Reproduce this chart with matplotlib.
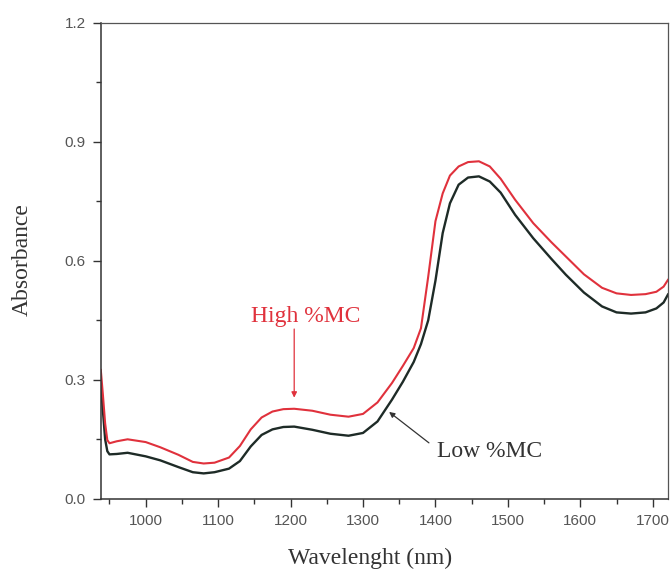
import matplotlib
matplotlib.use("Agg")
import matplotlib.pyplot as plt
from matplotlib.ticker import MultipleLocator

wavelength = [938, 941, 944, 947, 950, 960, 975, 1000, 1020, 1045, 1065, 1080, 1095,
              1115, 1130, 1145, 1160, 1175, 1190, 1205, 1230, 1255, 1280, 1300, 1320,
              1340, 1355, 1370, 1380, 1390, 1400, 1410, 1420, 1432, 1445, 1460, 1475,
              1490, 1510, 1535, 1560, 1580, 1605, 1630, 1650, 1670, 1690, 1705, 1715, 1721]

low_mc = [0.29, 0.22, 0.15, 0.12, 0.112, 0.113, 0.116, 0.107, 0.097, 0.080, 0.067, 0.064,
          0.067, 0.076, 0.095, 0.132, 0.161, 0.175, 0.181, 0.182, 0.174, 0.164, 0.159,
          0.166, 0.195, 0.250, 0.295, 0.345, 0.39, 0.45, 0.55, 0.67, 0.745, 0.792, 0.810,
          0.813, 0.800, 0.772, 0.716, 0.657, 0.605, 0.565, 0.520, 0.485, 0.470, 0.467,
          0.470, 0.480, 0.495, 0.515]

high_mc = [0.325, 0.26, 0.19, 0.148, 0.140, 0.145, 0.150, 0.143, 0.130, 0.111, 0.093,
           0.089, 0.091, 0.104, 0.133, 0.175, 0.205, 0.220, 0.226, 0.227, 0.222, 0.212,
           0.207, 0.214, 0.243, 0.292, 0.335, 0.38, 0.43, 0.56, 0.70, 0.77, 0.815, 0.838,
           0.849, 0.851, 0.838, 0.807, 0.754, 0.695, 0.647, 0.611, 0.566, 0.532, 0.518,
           0.514, 0.516, 0.522, 0.535, 0.552]

x_ticks = [1000, 1100, 1200, 1300, 1400, 1500, 1600, 1700]
y_ticks = [0.0, 0.3, 0.6, 0.9, 1.2]
y_tick_labels = ["0.0", "0.3", "0.6", "0.9", "1.2"]

RED = "#e0313c"
DARK = "#1e2b27"

fig = plt.figure(figsize=(6.72, 5.72), dpi=100)
ax = fig.add_axes([0.150, 0.128, 0.844, 0.832])

ax.plot(wavelength, low_mc, color=DARK, lw=1.7)
ax.plot(wavelength, high_mc, color=RED, lw=1.5)

ax.set_xlim(938, 1721)
ax.set_ylim(0, 1.2)
ax.set_xticks(x_ticks)
ax.set_yticks(y_ticks)
ax.set_yticklabels(y_tick_labels)
ax.xaxis.set_minor_locator(MultipleLocator(50))
ax.yaxis.set_minor_locator(MultipleLocator(0.15))
ax.tick_params(which="both", direction="out", top=False, right=False,
               labelsize=11, labelcolor="#555555", color="#333333")
for lab in ax.get_xticklabels() + ax.get_yticklabels():
    lab.set_family(["Liberation Sans", "DejaVu Sans"])
ax.tick_params(which="major", length=6, width=1, pad=5)
ax.tick_params(which="minor", length=3.5, width=1)
for s in ["left", "bottom"]:
    ax.spines[s].set_color("#333333")
    ax.spines[s].set_linewidth(1.1)
for s in ["top", "right"]:
    ax.spines[s].set_color("#555555")
    ax.spines[s].set_linewidth(0.9)

serif = ["Liberation Serif", "DejaVu Serif"]
fig.text(370 / 672, 1 - 558 / 572, "Wavelenght (nm)", fontsize=17, family=serif,
         color="#333333", ha="center", va="center")
fig.text(22 / 672, 1 - 260 / 572, "Absorbance", fontsize=17, family=serif,
         color="#333333", ha="center", va="center", rotation=90)

ax.text(1221, 0.459, "High %MC", ha="center", va="center", fontsize=17,
        family=serif, color=RED)
ax.annotate("", xy=(1205, 0.255), xytext=(1205, 0.428),
            arrowprops=dict(arrowstyle="-|>", color=RED, lw=0.9, shrinkA=0,
                            shrinkB=0, mutation_scale=8))
ax.text(1402, 0.118, "Low %MC", ha="left", va="center", fontsize=17,
        family=serif, color="#333333")
ax.annotate("", xy=(1336, 0.219), xytext=(1391, 0.141),
            arrowprops=dict(arrowstyle="-|>", color="#333333", lw=0.9, shrinkA=0,
                            shrinkB=0, mutation_scale=8))

fig.savefig("out.png", dpi=100)
